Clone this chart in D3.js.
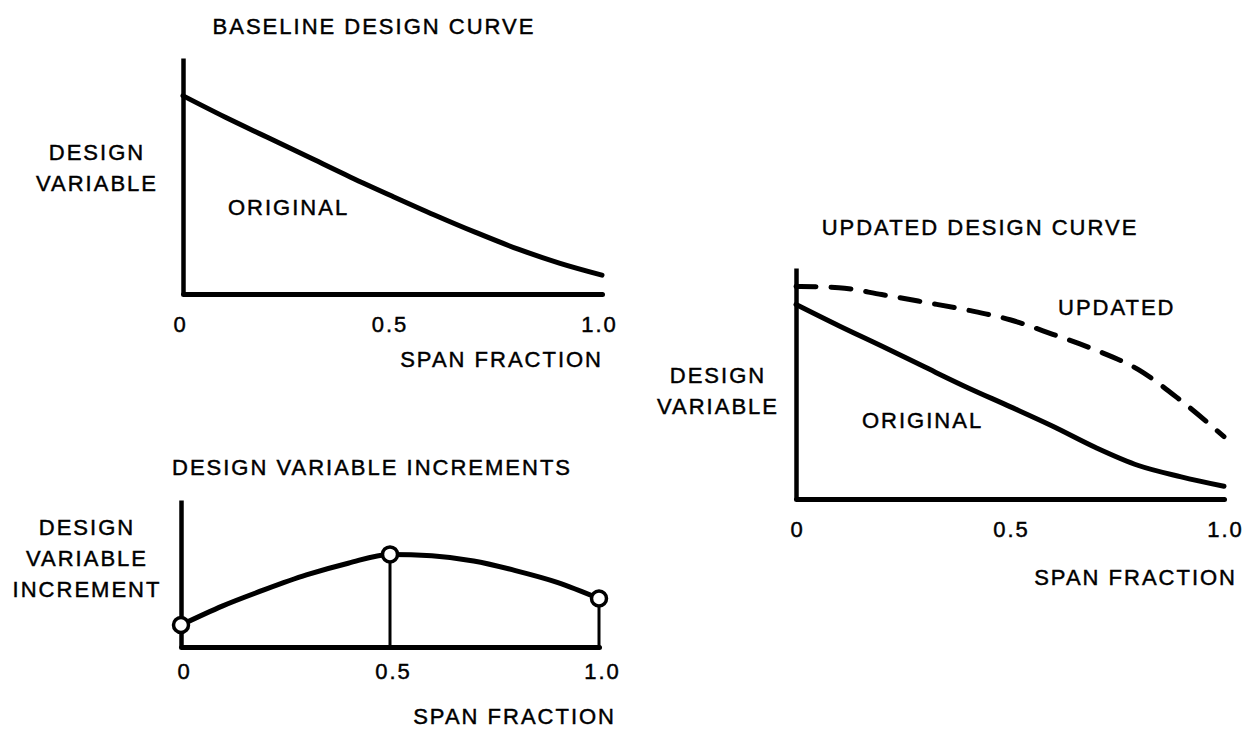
<!DOCTYPE html>
<html>
<head>
<meta charset="utf-8">
<script src="https://cdn.jsdelivr.net/npm/d3@7"></script>
<style>
  html, body { margin: 0; padding: 0; background: #fff; }
  text { font-family: 'Liberation Sans', Arial, sans-serif; font-size: 22px; letter-spacing: 2px; fill: #000; stroke: #000; stroke-width: 0.45px; }
</style>
</head>
<body>
<div id="chart"></div>
<script>
// span fraction stations used by every curve
const spanX = [0, 0.1, 0.2, 0.3, 0.4, 0.5, 0.6, 0.7, 0.8, 0.9, 1.0]

// baseline design curve (design variable, axis top = 1)
const baselineOriginal = [0.84, 0.75, 0.665, 0.58, 0.495, 0.414, 0.335, 0.26, 0.19, 0.13, 0.08]

// design variable increments
const incrementValues = [0.15, 0.28, 0.39, 0.49, 0.57, 0.63, 0.62, 0.585, 0.52, 0.44, 0.33]
const incrementNodeSpan = [0, 0.5, 1.0]
const incrementNodeValues = [0.15, 0.63, 0.33]

// updated design curve
const updatedOriginal = [0.842, 0.75, 0.662, 0.572, 0.483, 0.40, 0.315, 0.223, 0.145, 0.096, 0.055]
const updatedValues = [0.92, 0.915, 0.885, 0.852, 0.818, 0.776, 0.713, 0.645, 0.56, 0.425, 0.27]

const tickValues = [0, 0.5, 1.0]
const tickLabels = ['0', '0.5', '1.0']

const width = 1246
const height = 729

const svg = d3.select('#chart')
  .append('svg')
  .attr('width', width)
  .attr('height', height)

svg.append('rect').attr('width', width).attr('height', height).attr('fill', '#fff')

function drawPanel(p) {
  const x = d3.scaleLinear().domain([0, 1]).range([p.x0, p.x1])
  const y = d3.scaleLinear().domain([0, 1]).range([p.yBot, p.yTop])
  const g = svg.append('g')

  // title
  g.append('text')
    .attr('x', p.titleX)
    .attr('y', p.titleY)
    .attr('text-anchor', 'middle')
    .text(p.title)

  // y label lines
  p.yLabel.forEach((t, i) => {
    g.append('text')
      .attr('x', p.yLabelX)
      .attr('y', p.yLabelY + i * 31)
      .attr('text-anchor', 'middle')
      .text(t)
  })

  // Y
  g.append('g')
    .attr('transform', `translate(${p.x0},0)`)
    .call(d3.axisLeft(y).tickValues([]).tickSizeOuter(0))
    .call((a) => a.select('.domain').attr('stroke', '#000').attr('stroke-width', 4.5))

  // X
  g.append('g')
    .attr('transform', `translate(0,${p.yBot})`)
    .call(
      d3.axisBottom(x)
        .tickValues(tickValues)
        .tickSize(0)
        .tickPadding(p.tickPad)
        .tickFormat((d, i) => tickLabels[i])
    )
    .call((a) => a.select('.domain').attr('stroke', '#000').attr('stroke-width', 5).attr('stroke-linecap', 'round'))
    .call((a) => a.selectAll('.tick text')
      .attr('font-family', null)
      .attr('font-size', null)
      .attr('dx', p.tickDx || 0))

  g.append('text')
    .attr('x', p.spanX)
    .attr('y', p.spanY)
    .attr('text-anchor', 'end')
    .text('SPAN FRACTION')

  const line = d3.line()
    .x((d, i) => x(spanX[i]))
    .y((d) => y(d))
    .curve(d3.curveMonotoneX)

  p.curves.forEach((c) => {
    g.append('path')
      .datum(c.values)
      .attr('d', line)
      .attr('fill', 'none')
      .attr('stroke', '#000')
      .attr('stroke-width', 5)
      .attr('stroke-linecap', 'round')
      .attr('stroke-dasharray', c.dash || null)
  })

  p.labels.forEach((l) => {
    g.append('text').attr('x', l.x).attr('y', l.y).text(l.text)
  })

  return { g, x, y }
}

drawPanel({
  x0: 183, x1: 602, yTop: 58, yBot: 294,
  title: 'BASELINE DESIGN CURVE', titleX: 374, titleY: 34,
  yLabel: ['DESIGN', 'VARIABLE'], yLabelX: 97, yLabelY: 160,
  tickPad: 22, tickDx: -3,
  spanX: 603, spanY: 367,
  curves: [{ values: baselineOriginal }],
  labels: [{ text: 'ORIGINAL', x: 228, y: 215 }]
})

const inc = drawPanel({
  x0: 181, x1: 599, yTop: 500, yBot: 647,
  title: 'DESIGN VARIABLE INCREMENTS', titleX: 372, titleY: 475,
  yLabel: ['DESIGN', 'VARIABLE', 'INCREMENT'], yLabelX: 87, yLabelY: 535,
  tickPad: 16, tickDx: 3,
  spanX: 616, spanY: 724,
  curves: [{ values: incrementValues }],
  labels: []
})

// vertical drops from the increment nodes (not at root)
inc.g.selectAll('line.drop')
  .data(incrementNodeSpan.slice(1))
  .enter()
  .append('line')
  .attr('class', 'drop')
  .attr('x1', (d) => inc.x(d))
  .attr('x2', (d) => inc.x(d))
  .attr('y1', (d) => inc.y(incrementNodeValues[incrementNodeSpan.indexOf(d)]))
  .attr('y2', inc.y(0))
  .attr('stroke', '#000')
  .attr('stroke-width', 3)

inc.g.selectAll('circle.node')
  .data(incrementNodeSpan)
  .enter()
  .append('circle')
  .attr('class', 'node')
  .attr('cx', (d) => inc.x(d))
  .attr('cy', (d, i) => inc.y(incrementNodeValues[i]))
  .attr('r', 7.5)
  .attr('fill', '#fff')
  .attr('stroke', '#000')
  .attr('stroke-width', 3.5)

drawPanel({
  x0: 796, x1: 1224, yTop: 268, yBot: 499,
  title: 'UPDATED DESIGN CURVE', titleX: 980, titleY: 235,
  yLabel: ['DESIGN', 'VARIABLE'], yLabelX: 718, yLabelY: 383,
  tickPad: 22, tickDx: 1,
  spanX: 1237, spanY: 585,
  curves: [
    { values: updatedOriginal },
    { values: updatedValues, dash: '20,15' }
  ],
  labels: [
    { text: 'ORIGINAL', x: 862, y: 428 },
    { text: 'UPDATED', x: 1058, y: 315 }
  ]
})
</script>
</body>
</html>
